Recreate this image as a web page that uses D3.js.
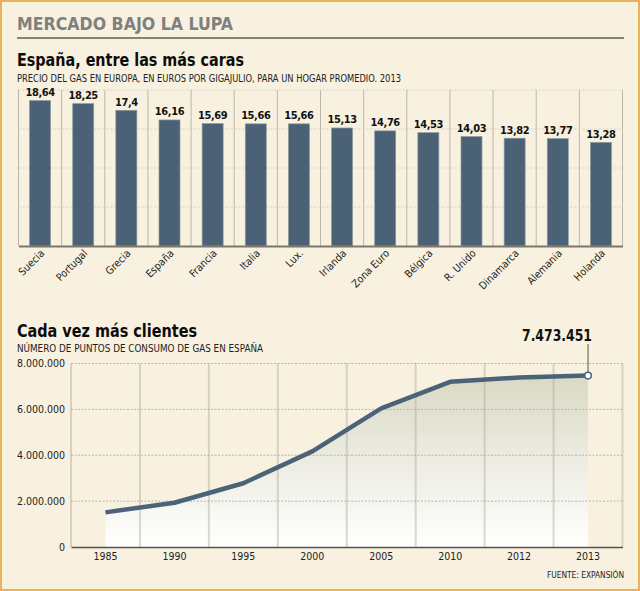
<!DOCTYPE html>
<html><head><meta charset="utf-8">
<script src="https://cdn.jsdelivr.net/npm/d3@7/dist/d3.min.js"></script>
<style>
html,body{margin:0;padding:0;background:#f8f1e0;overflow:hidden}
svg{display:block}
text{font-family:"DejaVu Sans Condensed","DejaVu Sans",sans-serif;fill:#111}
</style></head><body><svg id="c" width="640" height="591"></svg>
<script>
const countries=["Suecia","Portugal","Grecia","España","Francia","Italia","Lux.","Irlanda","Zona Euro","Bélgica","R. Unido","Dinamarca","Alemania","Holanda"];
const prices=[18.64,18.25,17.4,16.16,15.69,15.66,15.66,15.13,14.76,14.53,14.03,13.82,13.77,13.28];
const priceLabels=["18,64","18,25","17,4","16,16","15,69","15,66","15,66","15,13","14,76","14,53","14,03","13,82","13,77","13,28"];
const priceTicks=[5,10,15,20];
const years=["1985","1990","1995","2000","2005","2010","2012","2013"];
const clients=[1510000,1930000,2780000,4170000,6040000,7200000,7390000,7473451];
const clientTicks=[0,2000000,4000000,6000000,8000000];
const fmt=v=>d3.format(",")(v).replace(/,/g,".");

const svg=d3.select("#c");
svg.append("rect").attr("x",1).attr("y",1).attr("width",638).attr("height",589)
  .attr("fill","#f8f1e0").attr("stroke","#e9b35c").attr("stroke-width",2);
const txt=(x,y,s,size,weight,fill,len)=>{const t=svg.append("text").attr("x",x).attr("y",y).text(s)
  .attr("font-size",size).attr("font-weight",weight).style("fill",fill);
  if(len)t.attr("textLength",len).attr("lengthAdjust","spacingAndGlyphs");return t;};
txt(17,30,"MERCADO BAJO LA LUPA",17.5,"bold","#7f7f7f",216);
svg.append("line").attr("x1",17).attr("x2",624).attr("y1",38).attr("y2",38).attr("stroke","#85827b").attr("stroke-width",2);
txt(17,66,"España, entre las más caras",17.5,"bold","#0c0c0c",227);
txt(17,82,"PRECIO DEL GAS EN EUROPA, EN EUROS POR GIGAJULIO, PARA UN HOGAR PROMEDIO. 2013",10.5,"normal","#222",384);
txt(17,336.5,"Cada vez más clientes",17.5,"bold","#0c0c0c",180);
txt(17,352,"NÚMERO DE PUNTOS DE CONSUMO DE GAS EN ESPAÑA",10.5,"normal","#222",246);

/* bars */
const bx=d3.scaleBand().domain(countries).range([18.5,622.5]);
const by=d3.scaleLinear().domain([0,20]).range([246,90]);
const g1=svg.append("g");
g1.selectAll("line.g").data(priceTicks).join("line").attr("class","g")
  .attr("x1",18.5).attr("x2",622.5).attr("y1",d=>by(d)).attr("y2",d=>by(d))
  .attr("stroke","#d5d0c2").attr("stroke-width",1.2).attr("stroke-dasharray","2 2");
g1.selectAll("line.v").data([...countries,null]).join("line").attr("class","v")
  .attr("x1",(d,i)=>18.5+i*bx.step()).attr("x2",(d,i)=>18.5+i*bx.step())
  .attr("y1",90).attr("y2",246).attr("stroke","#bdb7ab").attr("stroke-width",1);
const bw=21;
g1.selectAll("rect").data(prices).join("rect")
  .attr("x",(d,i)=>bx(countries[i])+bx.bandwidth()/2-bw/2).attr("width",bw)
  .attr("y",d=>by(d)).attr("height",d=>by(0)-by(d))
  .attr("fill","#4a6176").attr("stroke","#8d9aa0").attr("stroke-width",.7);
g1.selectAll("text.val").data(prices).join("text").attr("class","val")
  .attr("x",(d,i)=>bx(countries[i])+bx.bandwidth()/2).attr("y",d=>by(d)-4.5)
  .attr("text-anchor","middle").attr("font-size",11).attr("font-weight","bold")
  .style("letter-spacing","-0.4px")
  .text((d,i)=>priceLabels[i]);
const ax=g1.append("g").attr("transform","translate(0,246)").call(d3.axisBottom(bx).tickSize(0).tickPadding(0));
ax.select(".domain").attr("stroke","#7d786c").attr("stroke-width",2);
ax.selectAll("text").attr("font-size",10.5).attr("text-anchor","end").attr("dy",0)
  .style("font-family",'"DejaVu Sans Condensed"').style("fill","#222")
  .attr("transform","translate(5,8) rotate(-45)").attr("y",0).attr("x",0);

/* line */
const lx=d3.scaleBand().domain(years).range([71,622.5]);
const cx=d=>lx(d)+lx.bandwidth()/2;
const ly=d3.scaleLinear().domain([0,8000000]).range([547,363.5]);
const defs=svg.append("defs");
const gr=defs.append("linearGradient").attr("id","fade").attr("x1",0).attr("x2",0).attr("y1",0).attr("y2",1);
gr.append("stop").attr("offset",0).attr("stop-color","#d9d9c4");
gr.append("stop").attr("offset",1).attr("stop-color","#ffffff");
const pts=years.map((y,i)=>[cx(y),ly(clients[i])]);
const g2=svg.append("g");
g2.append("path").attr("d",d3.area().x(d=>d[0]).y0(547).y1(d=>d[1])(pts)).attr("fill","url(#fade)");
g2.selectAll("line.v").data([...years,null]).join("line").attr("class","v")
  .attr("x1",(d,i)=>71+i*lx.step()).attr("x2",(d,i)=>71+i*lx.step())
  .attr("y1",363.5).attr("y2",547).attr("stroke","#a8a69a").attr("stroke-opacity",.42).attr("stroke-width",2);
g2.selectAll("line.h").data(clientTicks.slice(1)).join("line").attr("class","h")
  .attr("x1",71).attr("x2",622.5).attr("y1",d=>ly(d)).attr("y2",d=>ly(d))
  .attr("stroke","#aaa79b").attr("stroke-width",.8).attr("stroke-dasharray","2 1.5");
const ya=g2.append("g").attr("transform","translate(71,0)").call(d3.axisLeft(ly).tickValues(clientTicks).tickFormat(fmt).tickSize(0).tickPadding(6));
ya.select(".domain").remove();
ya.selectAll("text").attr("font-size",10.5).style("font-family",'"DejaVu Sans Condensed"').style("fill","#222");
const xa=g2.append("g").attr("transform","translate(0,547)").call(d3.axisBottom(lx).tickSize(0).tickPadding(6));
xa.select(".domain").attr("stroke","#55524c").attr("stroke-width",1.5);
xa.selectAll("text").attr("font-size",10.5).style("font-family",'"DejaVu Sans Condensed"').style("fill","#222");
g2.append("path").attr("d",d3.line()(pts)).attr("fill","none").attr("stroke","#4a6378").attr("stroke-width",4.5).attr("stroke-linejoin","round");
const last=pts[pts.length-1];
g2.append("line").attr("x1",last[0]).attr("x2",last[0]).attr("y1",344).attr("y2",last[1]).attr("stroke","#555").attr("stroke-width",1);
g2.append("circle").attr("cx",last[0]).attr("cy",last[1]).attr("r",3.3).attr("fill","#fff").attr("stroke","#4a6378").attr("stroke-width",1.5);
g2.append("text").attr("x",557).attr("y",341).attr("text-anchor","middle").attr("font-size",15.5).attr("font-weight","bold").style("font-family",'"DejaVu Sans"').attr("textLength",70).attr("lengthAdjust","spacingAndGlyphs").text(fmt(clients[7]));
txt(547,578,"FUENTE: EXPANSIÓN",9.5,"normal","#222",77);
</script></body></html>
